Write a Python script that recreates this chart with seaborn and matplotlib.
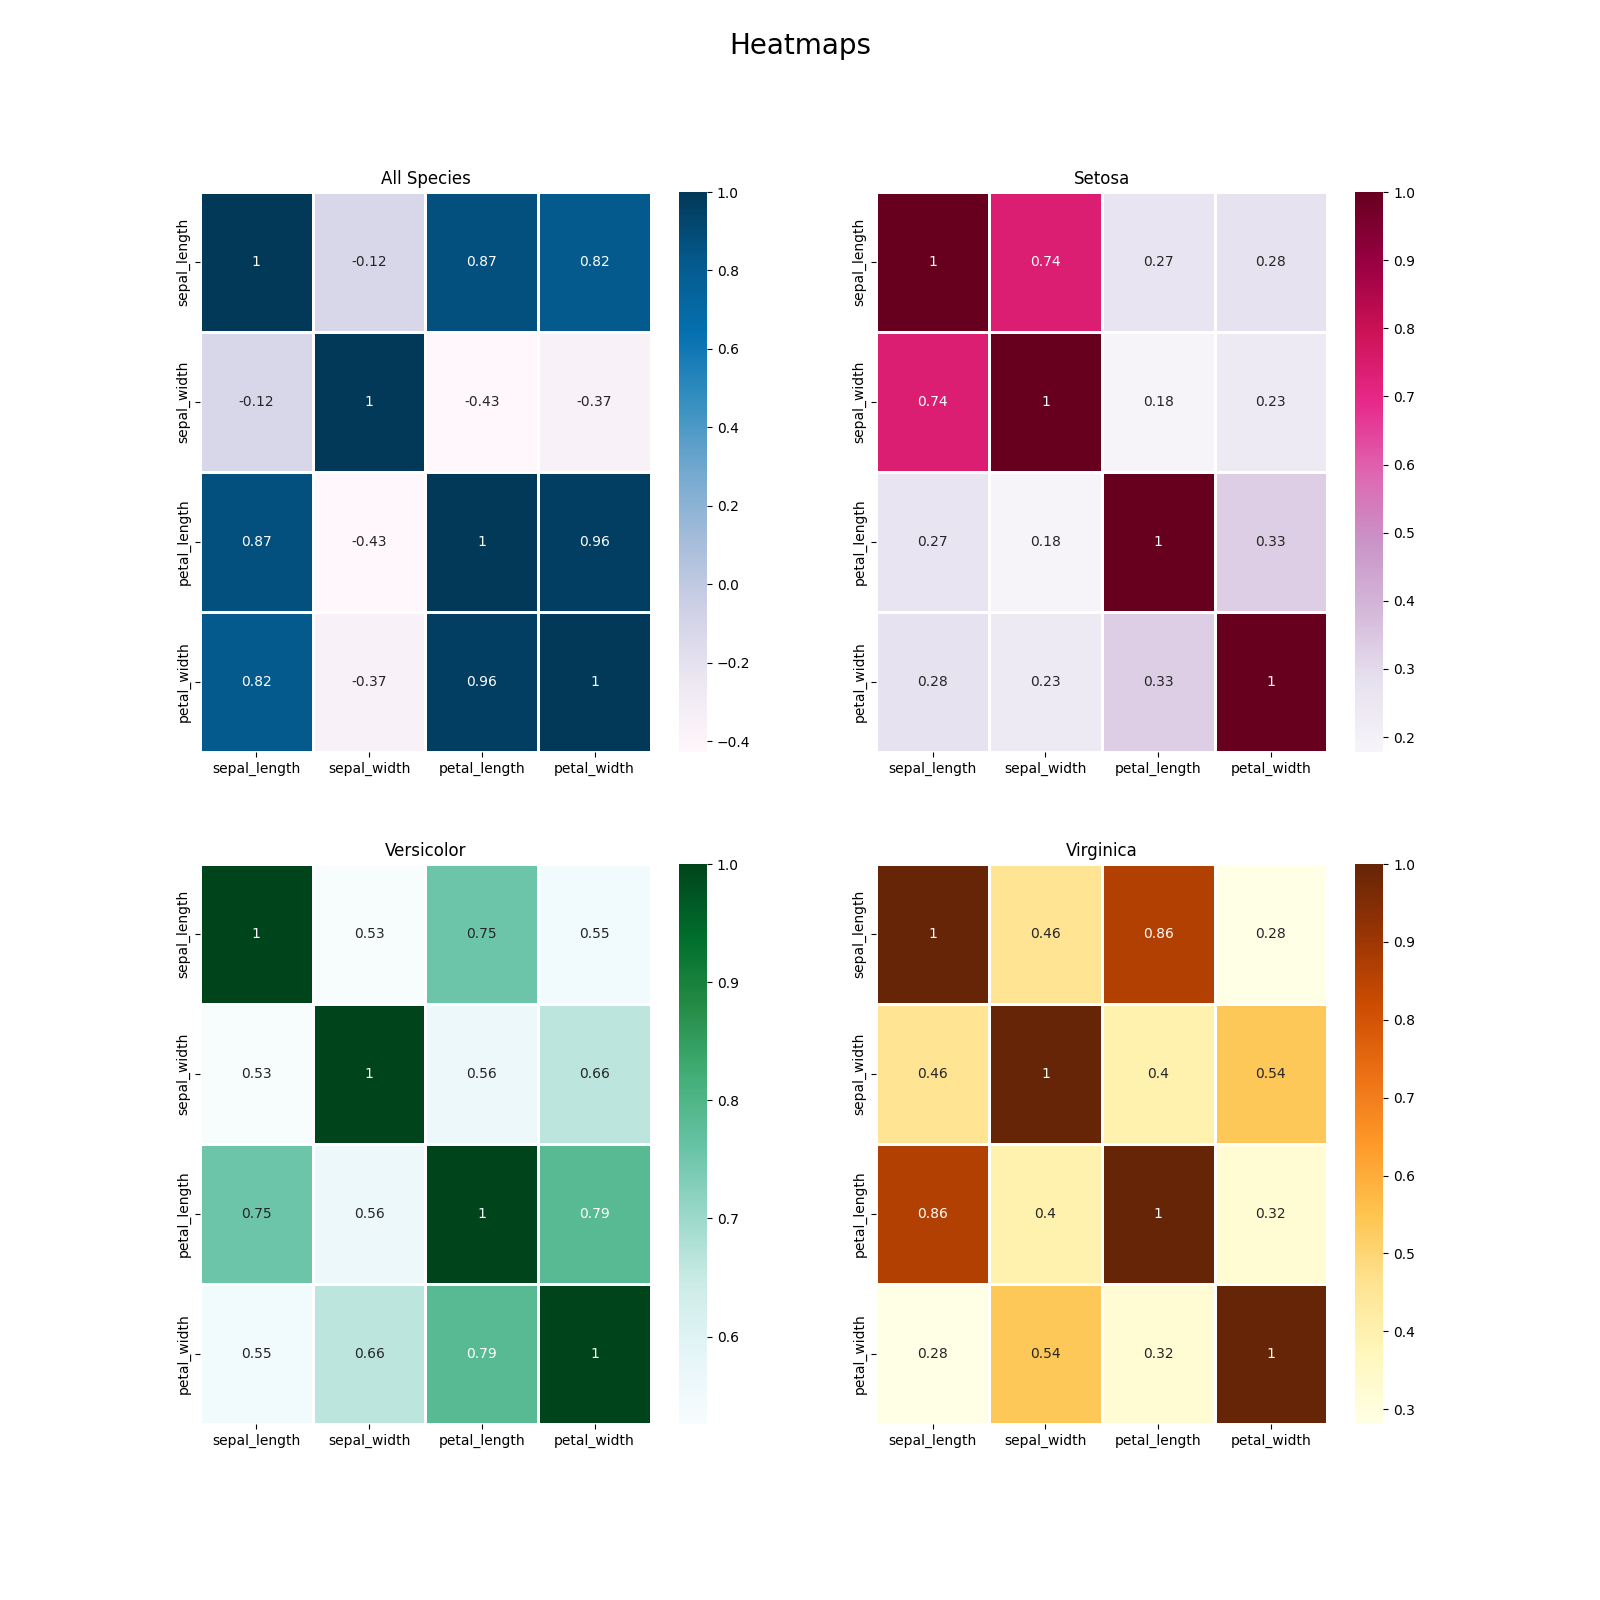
import numpy as np
import pandas as pd
import matplotlib
matplotlib.use('Agg')
import matplotlib.pyplot as plt
import seaborn as sns

features = ['sepal_length', 'sepal_width', 'petal_length', 'petal_width']

all_species = [[1.000, -0.118, 0.872, 0.818],
               [-0.118, 1.000, -0.428, -0.366],
               [0.872, -0.428, 1.000, 0.963],
               [0.818, -0.366, 0.963, 1.000]]

setosa = [[1.000, 0.743, 0.267, 0.278],
          [0.743, 1.000, 0.178, 0.233],
          [0.267, 0.178, 1.000, 0.332],
          [0.278, 0.233, 0.332, 1.000]]

versicolor = [[1.000, 0.526, 0.754, 0.546],
              [0.526, 1.000, 0.561, 0.664],
              [0.754, 0.561, 1.000, 0.787],
              [0.546, 0.664, 0.787, 1.000]]

virginica = [[1.000, 0.457, 0.864, 0.281],
             [0.457, 1.000, 0.401, 0.538],
             [0.864, 0.401, 1.000, 0.322],
             [0.281, 0.538, 0.322, 1.000]]

titles = ['All Species', 'Setosa', 'Versicolor', 'Virginica']
cmaps = ['PuBu', 'PuRd', 'BuGn', 'YlOrBr']
matrices = [all_species, setosa, versicolor, virginica]

fig, axes = plt.subplots(2, 2, figsize=(16, 16))
fig.suptitle('Heatmaps', fontsize=20)

for ax, mat, title, cmap in zip(axes.flat, matrices, titles, cmaps):
    df = pd.DataFrame(mat, index=features, columns=features)
    sns.heatmap(df, annot=True, cmap=cmap, linewidths=2, linecolor='white', ax=ax)
    ax.set_title(title)

plt.savefig('out.png', dpi=100)
